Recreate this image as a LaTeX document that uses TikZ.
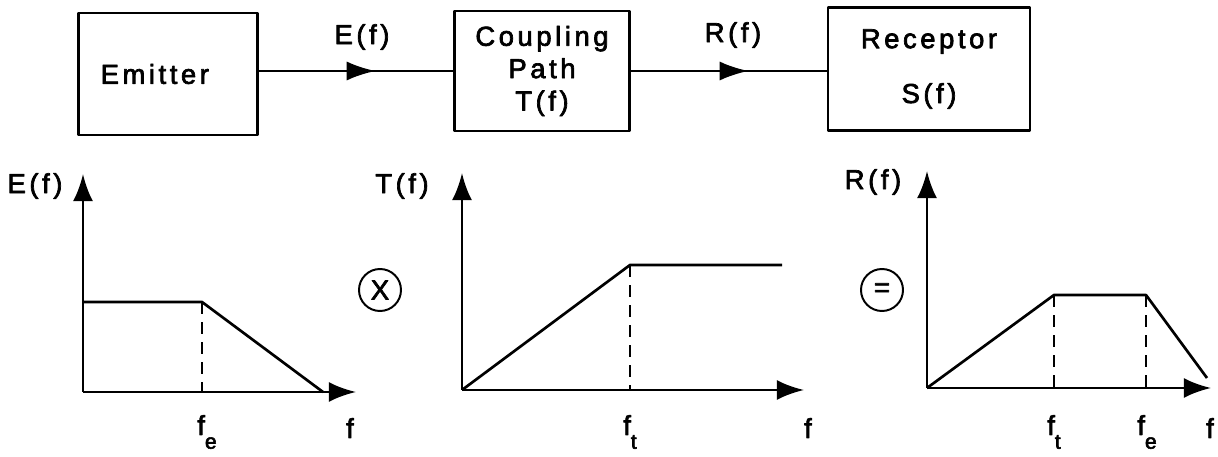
\documentclass[tikz,border=0pt]{standalone}
\usepackage{fontspec}
\setmainfont{Liberation Sans}[LetterSpace=13, FakeBold=2.5]
\usetikzlibrary{arrows.meta,decorations.markings,positioning}

\newcommand{\fsub}[1]{f\raisebox{-0.5em}{\fontsize{15}{15}\selectfont #1}}

\tikzset{
  block/.style={draw, line width=1.8pt, align=center, inner sep=0pt},
  flow/.style={postaction={decorate},
    decoration={markings, mark=at position 0.6 with {\arrow{Latex[length=0.72cm,width=0.48cm]}}}},
  axis/.style={-{Latex[length=0.68cm,width=0.5cm]}},
  guide/.style={dashed, dash pattern=on 0.3cm off 0.2cm, line width=1.3pt},
  op/.style={circle, draw, line width=1.4pt, minimum size=1.05cm, inner sep=0pt}
}

\begin{document}
\begin{tikzpicture}[x=0.025cm, y=-0.025cm, line width=1.9pt, line join=round,
  font=\fontsize{19.5}{23}\selectfont]
  \useasboundingbox (0,0) rectangle (1218,457);

  % blocks
  \node[block, minimum width=4.48cm, minimum height=3.05cm,
    label={[xshift=-0.33cm]center:Emitter}] (emitter) at (168,74) {};
  \node[block, minimum width=4.38cm, minimum height=3cm] (coupling) at (542,71) {Coupling\\Path\\T(f)};
  \node[block, minimum width=5.05cm, minimum height=3.08cm] (receptor) at (929,69) {Receptor\\[16pt]S(f)};
  \draw[flow] (emitter.east |- coupling.west) -- (coupling.west);
  \draw[flow] (coupling.east) -- (coupling.east -| receptor.west);
  \node (ef) at (362,37) {E(f)};
  \node (rf) at (733,35) {R(f)};

  % emitter spectrum
  \draw[axis] (83,392) -- (83,174);
  \draw[axis] (83,392) -- (356,392);
  \draw (83,302) -- (202,302) -- (323,392);
  \draw[guide] (202,302) -- (202,392);
  \node (elab) at (35,186) {E(f)};
  \node (fe) at (207,432) {\fsub{e}};
  \node (f1) at (350,428) {f};

  \node[op] (times) at (380,290) {X};

  % coupling path
  \draw[axis] (462,390) -- (462,173);
  \draw[axis] (462,390) -- (804,390);
  \draw (462,390) -- (630,265) -- (782,265);
  \draw[guide] (630,265) -- (630,390);
  \node (tlab) at (402,186) {T(f)};
  \node (ft) at (630,432) {\fsub{t}};
  \node (f2) at (808,428) {f};

  \node[op] (equals) at (882,290) {=};

  % received spectrum
  \draw[axis] (927,388) -- (927,171);
  \draw[axis] (927,388) -- (1211,388);
  \draw (927,388) -- (1054,295) -- (1146,295) -- (1207,378);
  \draw[guide] (1054,295) -- (1054,388);
  \draw[guide] (1146,295) -- (1146,388);
  \node (rlab) at (873,182) {R(f)};
  \node (ft2) at (1054,432) {\fsub{t}};
  \node (fe2) at (1147,432) {\fsub{e}};
  \node (f3) at (1210,428) {f};
\end{tikzpicture}
\end{document}
